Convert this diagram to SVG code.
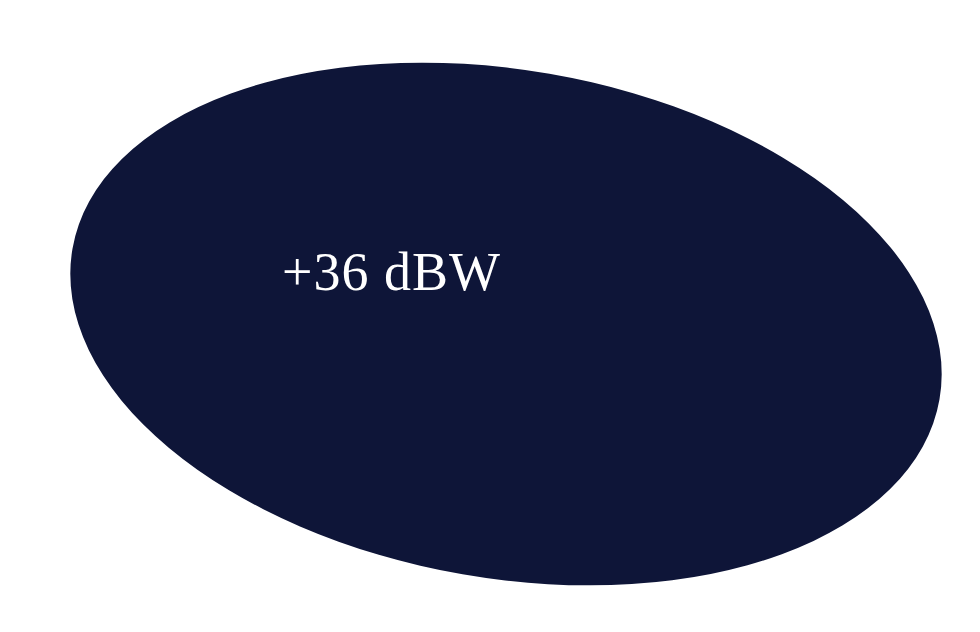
<svg xmlns="http://www.w3.org/2000/svg" width="980" height="632" viewBox="0 0 980 632">
<style>
.lbl{font-family:"Liberation Serif","Times New Roman",serif;fill:#ffffff;font-size:54px;letter-spacing:1px}
</style>
<rect width="980" height="632" fill="#ffffff"/>
<g id="region">
<ellipse cx="506" cy="324" rx="440" ry="254" transform="rotate(9.85 506 324)" fill="#0e1538"/>
<text class="lbl" x="282" y="290">+36 dBW</text>
</g>
</svg>
